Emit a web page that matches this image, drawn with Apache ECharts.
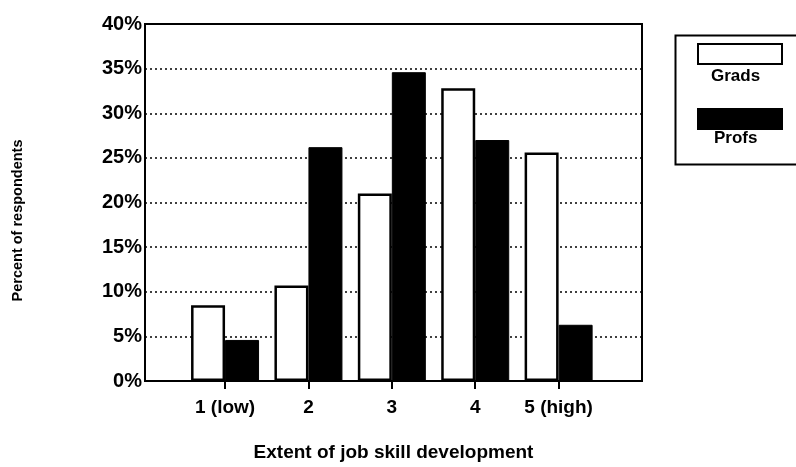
<!DOCTYPE html>
<html>
<head>
<meta charset="utf-8">
<script src="https://cdn.jsdelivr.net/npm/echarts@6/dist/echarts.min.js"></script>
<style>
  html, body { margin: 0; padding: 0; background: #fff; }
  #chart { width: 796px; height: 467px; }
</style>
</head>
<body>
<div id="chart"></div>
<script>
// extent of job skill development, 1..5
const positions = [1, 2, 3, 4, 5];
const tickLabels = ['1 (low)', '2', '3', '4', '5 (high)'];
const seriesNames = ['Grads', 'Profs'];
const grads = [8.5, 10.7, 21.0, 32.8, 25.6];
const profs = [4.6, 26.2, 34.6, 27.0, 6.3];

const font = '"Liberation Sans", Arial, sans-serif';

const chart = echarts.init(document.getElementById('chart'));

chart.setOption({
  animation: false,
  textStyle: { fontFamily: font, color: '#000' },
  grid: {
    left: 145, right: 154, top: 24, bottom: 84,
    show: true, borderColor: '#000', borderWidth: 2,
  },
  legend: {
    data: seriesNames,
    orient: 'vertical',
    left: 697, top: 43,
    padding: 0,
    icon: 'rect',
    itemWidth: 84, itemHeight: 20,
    itemGap: 43,
    formatter: () => '',
    selectedMode: false,
  },
  graphic: [
    { type: 'rect', left: 673, top: 33, shape: { width: 140, height: 129 },
      style: { fill: 'none', stroke: '#000', lineWidth: 2 }, z: 0 },
    { type: 'text', left: 711, top: 68,
      style: { text: 'Grads', font: 'bold 17px ' + font, fill: '#000' } },
    { type: 'text', left: 714, top: 130,
      style: { text: 'Profs', font: 'bold 17px ' + font, fill: '#000' } },
  ],
  xAxis: {
    type: 'value', min: 0.04, max: 6.0,
    name: 'Extent of job skill development',
    nameLocation: 'middle', nameGap: 62,
    nameTextStyle: { fontSize: 19, fontWeight: 'bold', color: '#000' },
    axisLine: { show: true, lineStyle: { color: '#000', width: 2 } },
    axisTick: { show: true, customValues: positions, length: 8, lineStyle: { color: '#000', width: 2 } },
    axisLabel: {
      customValues: positions, margin: 17,
      fontSize: 19, fontWeight: 'bold', color: '#000',
      formatter: (v) => tickLabels[positions.indexOf(v)] ?? '',
    },
    splitLine: { show: false },
  },
  yAxis: {
    type: 'value', min: 0, max: 40, interval: 5,
    name: 'Percent of respondents',
    nameLocation: 'middle', nameGap: 120, nameRotate: 90,
    nameTextStyle: { fontSize: 14.5, fontWeight: 'bold', color: '#000', padding: [0, 36, 0, 0] },
    axisLine: { show: true, lineStyle: { color: '#000', width: 2 } },
    axisTick: { show: false },
    axisLabel: { formatter: '{value}%', margin: 3, fontSize: 20, fontWeight: 'bold', color: '#000' },
    splitLine: { show: true, lineStyle: { color: '#000', width: 1.5, type: [2, 3] } },
  },
  series: [
    {
      name: seriesNames[0], type: 'bar', barWidth: 34, barGap: '0%',
      itemStyle: { color: '#fff', borderColor: '#000', borderWidth: 2.5 },
      data: positions.map((p, i) => [p, grads[i]]),
    },
    {
      name: seriesNames[1], type: 'bar', barWidth: 34, barGap: '0%',
      itemStyle: { color: '#000', borderColor: '#000', borderWidth: 1 },
      data: positions.map((p, i) => [p, profs[i]]),
    },
  ],
});
</script>
</body>
</html>
